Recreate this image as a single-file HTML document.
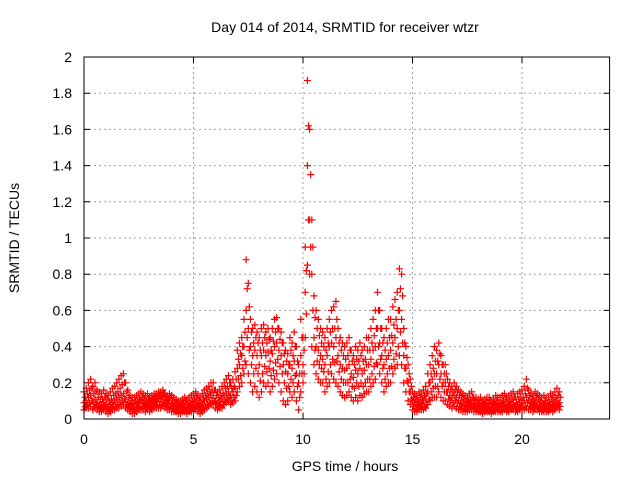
<!DOCTYPE html>
<html><head><meta charset="utf-8"><style>
body{margin:0;background:#fff}
svg{display:block;font-family:"Liberation Sans",sans-serif}
</style></head><body>
<svg id="chart" width="640" height="480" viewBox="0 0 640 480">
<rect width="640" height="480" fill="#fff"/>
<text x="345" y="32" text-anchor="middle" font-size="14">Day 014 of 2014, SRMTID for receiver wtzr</text>
<text transform="translate(19,238) rotate(-90)" text-anchor="middle" font-size="14">SRMTID / TECUs</text>
<text x="345" y="471" text-anchor="middle" font-size="14">GPS time / hours</text>
<g id="grid"></g>
<g id="ticks"></g>
<g id="pts"></g>
<rect x="84" y="57" width="525.6" height="362" fill="none" stroke="#000" stroke-width="1"/>
</svg>
<script>
const xTicks=[0,5,10,15,20];
const yTicks=[0,0.2,0.4,0.6,0.8,1,1.2,1.4,1.6,1.8,2];
const yTickLabels=["0","0.2","0.4","0.6","0.8","1","1.2","1.4","1.6","1.8","2"];
const hiVals=[.15,.17,.2,.22,.18,.2,.16,.15,.14,.16,
.14,.13,.15,.17,.18,.2,.22,.24,.25,.2,
.16,.13,.12,.12,.13,.14,.15,.14,.13,.14,
.12,.13,.14,.14,.15,.15,.16,.14,.13,.14,
.13,.12,.11,.1,.1,.11,.12,.11,.12,.13,
.14,.15,.13,.12,.14,.16,.17,.18,.2,.2,
.16,.15,.16,.18,.2,.22,.24,.2,.22,.26,
.38,.42,.45,.55,.88,.75,.55,.5,.52,.48,
.45,.5,.52,.48,.5,.45,.5,.55,.56,.5,
.48,.42,.38,.36,.45,.42,.48,.4,.3,.55,
.45,.95,1.87,1.6,1.1,.68,.6,.55,.5,.48,
.45,.5,.55,.6,.62,.65,.5,.45,.42,.4,
.42,.45,.38,.35,.4,.38,.42,.38,.4,.45,
.45,.5,.55,.6,.7,.6,.5,.45,.5,.55,
.55,.62,.66,.7,.83,.8,.5,.4,.3,.22,
.15,.14,.13,.15,.14,.16,.18,.25,.3,.35,
.4,.38,.42,.35,.3,.3,.22,.2,.18,.2,
.18,.16,.15,.14,.13,.12,.14,.15,.12,.12,
.11,.12,.1,.11,.12,.12,.1,.11,.13,.12,
.12,.13,.14,.12,.13,.14,.15,.12,.14,.15,
.16,.18,.22,.16,.14,.13,.15,.14,.13,.12,
.13,.12,.12,.14,.13,.15,.17,.15];
const upperQVals=[.12,.14,.16,.17,.14,.15,.12,.11,.11,.12,
.11,.1,.11,.13,.14,.15,.17,.19,.2,.15,
.12,.1,.09,.1,.1,.11,.12,.11,.1,.11,
.1,.11,.12,.12,.13,.13,.14,.12,.11,.12,
.1,.09,.09,.08,.08,.09,.1,.08,.09,.1,
.11,.12,.1,.09,.11,.13,.14,.15,.16,.16,
.13,.12,.13,.14,.17,.18,.2,.17,.18,.22,
.33,.36,.4,.48,.72,.62,.48,.42,.45,.42,
.38,.42,.45,.42,.44,.38,.43,.48,.5,.44,
.42,.36,.32,.3,.38,.35,.4,.32,.25,.45,
.38,.82,1.62,1.35,.95,.56,.5,.46,.42,.4,
.38,.42,.48,.5,.5,.55,.42,.38,.35,.33,
.35,.38,.32,.3,.33,.32,.35,.32,.33,.38,
.38,.42,.46,.5,.6,.5,.42,.38,.42,.45,
.46,.52,.55,.6,.72,.68,.42,.34,.25,.18,
.12,.11,.1,.12,.11,.13,.14,.2,.25,.28,
.32,.32,.36,.3,.25,.25,.18,.16,.15,.16,
.15,.13,.12,.11,.1,.1,.11,.12,.1,.09,
.09,.09,.08,.09,.09,.1,.08,.09,.1,.09,
.09,.1,.11,.09,.1,.11,.12,.09,.11,.12,
.12,.14,.17,.13,.11,.1,.12,.11,.1,.09,
.1,.09,.09,.11,.1,.12,.13,.12];
const midVals=[.09,.1,.12,.13,.1,.11,.09,.08,.08,.09,
.08,.07,.08,.09,.1,.11,.12,.13,.14,.11,
.09,.08,.07,.07,.08,.09,.1,.09,.08,.09,
.08,.09,.1,.1,.11,.11,.12,.1,.09,.1,
.08,.07,.07,.06,.06,.07,.07,.06,.07,.08,
.08,.09,.08,.07,.08,.1,.11,.12,.13,.13,
.1,.09,.1,.11,.13,.14,.15,.13,.15,.17,
.28,.3,.35,.4,.6,.5,.4,.35,.38,.35,
.3,.35,.38,.35,.37,.32,.36,.4,.42,.38,
.35,.3,.26,.25,.3,.28,.32,.25,.2,.35,
.3,.7,1.4,1.1,.8,.45,.4,.38,.35,.33,
.3,.35,.4,.42,.4,.45,.35,.3,.28,.27,
.28,.3,.25,.23,.27,.25,.28,.25,.27,.3,
.3,.33,.38,.4,.5,.42,.35,.3,.33,.35,
.38,.42,.45,.5,.6,.55,.35,.28,.2,.15,
.1,.09,.08,.09,.09,.1,.11,.15,.2,.22,
.25,.25,.3,.25,.2,.2,.15,.13,.12,.13,
.12,.1,.09,.09,.08,.08,.09,.09,.08,.07,
.07,.07,.06,.07,.07,.07,.06,.07,.08,.07,
.07,.08,.08,.07,.08,.08,.09,.07,.08,.09,
.09,.1,.12,.1,.09,.08,.09,.08,.08,.07,
.08,.07,.07,.08,.08,.09,.1,.09];
const lowerQVals=[.07,.08,.09,.1,.07,.08,.07,.06,.06,.07,
.06,.05,.06,.07,.07,.08,.09,.1,.11,.08,
.07,.06,.05,.05,.06,.07,.07,.07,.06,.07,
.06,.07,.08,.08,.08,.08,.09,.08,.07,.07,
.06,.05,.05,.05,.05,.05,.05,.05,.05,.06,
.06,.07,.06,.05,.06,.07,.08,.09,.1,.1,
.08,.07,.08,.08,.1,.11,.12,.1,.12,.13,
.22,.24,.28,.32,.45,.38,.3,.25,.28,.25,
.21,.25,.29,.26,.28,.24,.27,.31,.33,.29,
.25,.2,.17,.18,.22,.2,.24,.18,.12,.25,
.25,.58,1.1,.95,.6,.38,.32,.3,.28,.26,
.22,.26,.3,.33,.31,.32,.26,.22,.2,.2,
.2,.22,.18,.17,.2,.18,.2,.18,.2,.22,
.22,.25,.29,.31,.4,.33,.28,.22,.25,.28,
.29,.33,.36,.4,.48,.42,.28,.21,.15,.11,
.07,.06,.06,.07,.07,.07,.08,.11,.15,.17,
.18,.18,.22,.18,.15,.15,.11,.1,.09,.1,
.09,.07,.07,.06,.06,.06,.07,.07,.06,.05,
.05,.05,.05,.05,.05,.05,.05,.05,.06,.05,
.05,.06,.06,.05,.06,.06,.07,.05,.06,.07,
.07,.07,.09,.07,.07,.06,.07,.06,.06,.05,
.06,.05,.05,.06,.06,.07,.08,.07];
const loVals=[.05,.06,.06,.07,.05,.06,.05,.04,.04,.05,
.04,.03,.04,.05,.05,.06,.06,.07,.08,.06,
.05,.04,.03,.03,.04,.05,.05,.05,.04,.05,
.04,.05,.06,.06,.06,.06,.07,.06,.05,.05,
.04,.04,.04,.03,.03,.04,.04,.03,.04,.04,
.04,.05,.04,.03,.04,.05,.06,.07,.08,.08,
.06,.05,.06,.06,.08,.09,.1,.08,.09,.1,
.15,.18,.2,.25,.3,.25,.2,.15,.18,.15,
.12,.15,.2,.18,.2,.15,.18,.22,.25,.2,
.15,.1,.08,.1,.15,.12,.15,.1,.05,.15,
.2,.45,.85,.8,.4,.3,.25,.22,.2,.2,
.15,.18,.2,.25,.22,.2,.18,.15,.13,.12,
.13,.15,.12,.1,.12,.1,.13,.12,.14,.15,
.15,.18,.2,.22,.3,.25,.2,.15,.18,.2,
.2,.25,.28,.3,.35,.3,.2,.15,.1,.08,
.05,.04,.04,.05,.05,.05,.06,.08,.1,.12,
.12,.12,.15,.12,.1,.1,.08,.07,.06,.07,
.06,.05,.05,.04,.04,.04,.05,.05,.04,.04,
.04,.04,.03,.04,.04,.04,.03,.04,.04,.04,
.04,.04,.05,.04,.04,.05,.05,.04,.04,.05,
.05,.05,.06,.05,.05,.04,.05,.05,.04,.04,
.04,.04,.04,.05,.04,.05,.06,.05];
const timeStep=0.1;
const halfOffset=0.05;
const NS="http://www.w3.org/2000/svg";
const X0=84,X1=609.6,Y0=419,Y1=57,XMAX=24,YMAX=2;
const xs=v=>X0+(X1-X0)*v/XMAX;
const ys=v=>Y0-(Y0-Y1)*v/YMAX;
function mk(tag,attrs,parent){const e=document.createElementNS(NS,tag);for(const k in attrs)e.setAttribute(k,attrs[k]);parent.appendChild(e);return e;}
const grid=document.getElementById('grid'),ticks=document.getElementById('ticks'),pts=document.getElementById('pts');
xTicks.forEach(t=>{
 const x=xs(t);
 if(t>0){const g=mk('line',{x1:x,x2:x,y1:Y0,y2:Y1,stroke:'#a0a0a0','stroke-dasharray':'2,3'},grid);
 
 }
 const tk=mk('path',{d:`M${x},${Y0}v-6M${x},${Y1}v6`,stroke:'#000'},ticks);
 
 
 const lb=mk('text',{x:x,y:444,'text-anchor':'middle','font-size':14},ticks);
 lb.textContent=String(t);
 
 
});
yTicks.forEach((t,i)=>{
 const y=ys(t);
 if(t>0&&t<YMAX){const g=mk('line',{x1:X0,x2:X1,y1:y,y2:y,stroke:'#a0a0a0','stroke-dasharray':'2,3'},grid);
 
 }
 const tk=mk('path',{d:`M${X0},${y}h6M${X1},${y}h-6`,stroke:'#000'},ticks);
 
 
 const lb=mk('text',{x:72,y:y+5,'text-anchor':'end','font-size':14},ticks);
 lb.textContent=yTickLabels[i];
 
 
});
let d='';
function addSeries(arr,off){
 arr.forEach((v,i)=>{const x=xs(i*timeStep+off),y=ys(v);d+=`M${(x-3.5).toFixed(1)},${y.toFixed(1)}h7M${x.toFixed(1)},${(y-3.5).toFixed(1)}v7`;});
}
addSeries(hiVals,0);
addSeries(upperQVals,halfOffset);
addSeries(midVals,0);
addSeries(lowerQVals,halfOffset);
addSeries(loVals,0);
const p=mk('path',{d:d,stroke:'#ff0000','stroke-width':1.2,fill:'none'},pts);


</script>
</body></html>
